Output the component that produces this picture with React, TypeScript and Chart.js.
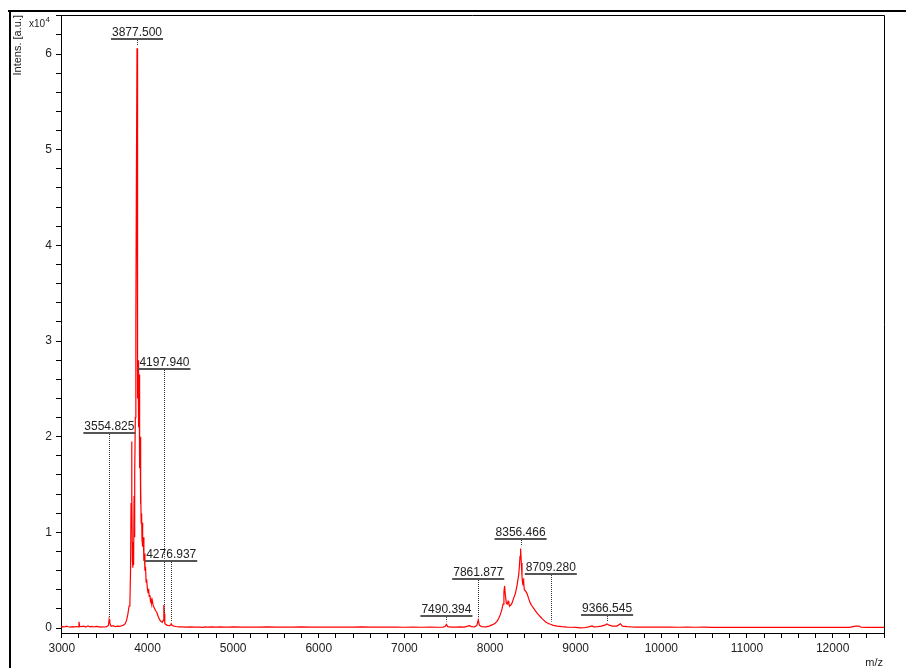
import React, { useEffect, useRef } from 'react';
import { Chart, registerables } from 'chart.js';

Chart.register(...registerables);

// ---- spectrum data (m/z, intensity in a.u.) ----
const mzValues: number[] = [
  2990, 3010, 3030, 3055, 3075, 3100, 3125, 3150, 3175, 3192, 3200, 3208, 3230, 3255, 3280, 3305, 3325, 3350, 3375, 3400,
  3425, 3450, 3475, 3500, 3525, 3545, 3552, 3560, 3575, 3600, 3625, 3650, 3675, 3700, 3720, 3740, 3755, 3770, 3785, 3795,
  3802, 3808, 3814, 3819, 3824, 3829, 3834, 3838, 3843, 3848, 3853, 3858, 3864, 3870, 3877.5, 3882, 3886, 3890, 3894, 3898,
  3902, 3906, 3910, 3914, 3918, 3922, 3926, 3931, 3936, 3941, 3946, 3951, 3958, 3964, 3970, 3977, 3984, 3990, 3998, 4006,
  4013, 4020, 4028, 4035, 4042, 4049, 4056, 4068, 4080, 4095, 4108, 4125, 4140, 4155, 4172, 4184, 4191, 4196, 4202, 4215,
  4235, 4255, 4270, 4278, 4290, 4310, 4335, 4360, 4400, 4450, 4500, 4550, 4600, 4650, 4665, 4700, 4750, 4800, 4850, 4900,
  4950, 5000, 5100, 5200, 5300, 5400, 5500, 5600, 5700, 5800, 5900, 6000, 6100, 6200, 6300, 6400, 6500, 6600, 6700, 6800,
  6900, 7000, 7100, 7200, 7300, 7400, 7450, 7475, 7490, 7505, 7550, 7600, 7650, 7700, 7740, 7760, 7780, 7820, 7845, 7862,
  7875, 7900, 7950, 7990, 8030, 8060, 8081, 8100, 8120, 8140, 8152, 8162, 8170, 8178, 8190, 8200, 8210, 8220, 8229, 8242,
  8256, 8275, 8295, 8310, 8322, 8335, 8342, 8350, 8357, 8365, 8373, 8380, 8385, 8390, 8395, 8400, 8412, 8432, 8450, 8470,
  8490, 8510, 8530, 8549, 8570, 8587, 8610, 8630, 8646, 8670, 8704, 8740, 8782, 8840, 8899, 8960, 9000, 9055, 9100, 9150,
  9191, 9210, 9260, 9300, 9340, 9366, 9390, 9430, 9480, 9522, 9545, 9600, 9650, 9700, 9750, 9800, 9900, 10000, 10100, 10200,
  10300, 10400, 10500, 10600, 10700, 10800, 10900, 11000, 11100, 11200, 11300, 11400, 11500, 11600, 11700, 11800, 11900, 12000, 12100, 12200,
  12240, 12270, 12310, 12330, 12400, 12500, 12600,
];

const intensityValues: number[] = [
  120, 150, 110, 200, 130, 100, 150, 120, 160, 130, 650, 180, 140, 200, 110, 230, 130, 170, 110, 180,
  140, 100, 130, 110, 150, 300, 900, 500, 180, 250, 140, 200, 170, 240, 300, 450, 800, 1400, 2300, 2800,
  6000, 13000, 19500, 14000, 7000, 6300, 9000, 6600, 13800, 9500, 16000, 22000, 32000, 46000, 60600, 38000, 24000, 28000, 26000, 21000,
  26500, 18000, 16700, 20000, 13000, 15000, 11000, 12000, 9200, 11000, 8500, 9500, 7000, 7800, 6000, 6400, 4800, 5100, 4200, 3700,
  4100, 3300, 3450, 2800, 3000, 2600, 2900, 2300, 2100, 1800, 1650, 1200, 900, 700, 600, 800, 2400, 1500, 500, 350,
  280, 250, 300, 450, 260, 200, 160, 130, 120, 100, 110, 90, 100, 60, 110, 100, 120, 100, 110, 90,
  100, 110, 100, 90, 100, 110, 100, 90, 100, 110, 100, 90, 100, 100, 90, 100, 110, 100, 90, 100,
  90, 80, 90, 80, 90, 80, 100, 150, 380, 150, 100, 90, 110, 100, 200, 250, 150, 120, 250, 850,
  300, 150, 120, 200, 350, 500, 700, 1000, 1400, 2000, 2500, 3800, 4400, 3500, 2600, 2500, 2800, 2500, 2300, 2400,
  2600, 3100, 3600, 4200, 4850, 5600, 6400, 7500, 8300, 6800, 5400, 4700, 4500, 5200, 4800, 4000, 3900, 3600, 3100, 2600,
  2300, 2050, 1800, 1550, 1350, 1180, 950, 800, 660, 520, 390, 280, 200, 140, 100, 80, 60, 20, 30, 120,
  220, 130, 150, 200, 300, 420, 300, 200, 200, 450, 200, 150, 120, 100, 100, 90, 100, 90, 100, 80,
  90, 80, 90, 70, 80, 70, 80, 70, 80, 60, 70, 60, 70, 60, 70, 60, 60, 70, 60, 70,
  150, 200, 200, 80, 60, 60, 60,
];

// ---- peak annotations ----
const peakLabels: string[] = ['3554.825', '3877.500', '4197.940', '4276.937', '7490.394', '7861.877', '8356.466', '8709.280', '9366.545'];
const peakMz: number[] = [3554.825, 3877.5, 4197.94, 4276.937, 7490.394, 7861.877, 8356.466, 8709.28, 9366.545];
const labelLevels: number[] = [20380, 61620, 27070, 7000, 1250, 5120, 9300, 5640, 1360];

// ---- axes ----
const xMin = 2990;
const xMax = 12600;
const yMin = -520;
const yMax = 64080;
const xMajorTicks: number[] = [3000, 4000, 5000, 6000, 7000, 8000, 9000, 10000, 11000, 12000];
const xMinorStep = 200;
const yMajorTicks: number[] = [0, 10000, 20000, 30000, 40000, 50000, 60000];
const yMinorStep = 2000;
const yTickDivisor = 10000;

const FONT = '"Liberation Sans", Arial, Helvetica, sans-serif';

function intensityAt(mz: number): number {
  for (let i = 0; i < mzValues.length - 1; i++) {
    if (mzValues[i] <= mz && mzValues[i + 1] >= mz) {
      const t = (mz - mzValues[i]) / (mzValues[i + 1] - mzValues[i]);
      return intensityValues[i] + t * (intensityValues[i + 1] - intensityValues[i]);
    }
  }
  return 0;
}

const framePlugin = {
  id: 'brukerFrame',
  afterDraw(chart: any) {
    const { ctx, chartArea: a, scales } = chart;
    const xs = scales.x;
    const ys = scales.y;
    ctx.save();

    // outer frame
    ctx.strokeStyle = '#000';
    ctx.lineWidth = 2;
    ctx.setLineDash([]);
    ctx.beginPath();
    ctx.moveTo(8, 11);
    ctx.lineTo(906, 11);
    ctx.moveTo(10, 10);
    ctx.lineTo(10, 668);
    ctx.stroke();

    // plot box top and right
    ctx.lineWidth = 1;
    ctx.strokeStyle = '#000';
    ctx.beginPath();
    ctx.moveTo(a.left, a.top + 0.5);
    ctx.lineTo(a.right + 0.5, a.top + 0.5);
    ctx.lineTo(a.right + 0.5, a.bottom);
    ctx.stroke();

    // peak labels
    ctx.font = '12px ' + FONT;
    peakLabels.forEach((lab, i) => {
      const px = xs.getPixelForValue(peakMz[i]);
      const ly = Math.round(ys.getPixelForValue(labelLevels[i]));
      const top = ys.getPixelForValue(intensityAt(peakMz[i]));
      const w = ctx.measureText(lab).width;
      ctx.fillStyle = '#222';
      ctx.textAlign = 'center';
      ctx.textBaseline = 'alphabetic';
      ctx.fillText(lab, px, ly - 3);
      ctx.setLineDash([]);
      ctx.strokeStyle = '#555';
      ctx.lineWidth = 2;
      ctx.beginPath();
      ctx.moveTo(px - w / 2 - 1, ly);
      ctx.lineTo(px + w / 2 + 1, ly);
      ctx.stroke();
      ctx.strokeStyle = '#333';
      ctx.lineWidth = 1;
      ctx.setLineDash([1, 1]);
      const vx = Math.round(px) + 0.5;
      ctx.beginPath();
      ctx.moveTo(vx, ly + 1);
      ctx.lineTo(vx, top - 3);
      ctx.stroke();
    });
    ctx.setLineDash([]);

    // axis titles
    ctx.fillStyle = '#222';
    ctx.font = '11px ' + FONT;
    ctx.save();
    ctx.translate(21, 15);
    ctx.rotate(-Math.PI / 2);
    ctx.textAlign = 'right';
    ctx.textBaseline = 'alphabetic';
    ctx.fillText('Intens. [a.u.]', 0, 0);
    ctx.restore();

    ctx.textAlign = 'left';
    ctx.textBaseline = 'alphabetic';
    ctx.font = '10px ' + FONT;
    ctx.fillText('x10', 29, 27);
    const wx = ctx.measureText('x10').width;
    ctx.font = '8px ' + FONT;
    ctx.fillText('4', 29 + wx + 0.5, 22);

    ctx.font = '11px ' + FONT;
    ctx.textAlign = 'right';
    ctx.fillText('m/z', 883, 666);

    ctx.restore();
  },
};

export default function App() {
  const canvasRef = useRef<HTMLCanvasElement | null>(null);

  useEffect(() => {
    const canvas = canvasRef.current;
    if (!canvas) return;
    const points = mzValues.map((m, i) => ({ x: m, y: intensityValues[i] }));
    const chart = new Chart(canvas, {
      type: 'line',
      data: {
        datasets: [
          {
            data: points,
            borderColor: '#ff0000',
            borderWidth: 1.2,
            pointRadius: 0,
            tension: 0,
            fill: false,
          },
        ],
      },
      options: {
        animation: false,
        responsive: false,
        devicePixelRatio: 1,
        layout: { padding: { left: 0, top: 15, right: 22, bottom: 0 } },
        plugins: {
          legend: { display: false },
          tooltip: { enabled: false },
        },
        scales: {
          x: {
            type: 'linear',
            min: xMin,
            max: xMax,
            afterFit: (s: any) => {
              s.height = 35;
            },
            afterBuildTicks: (s: any) => {
              const t: { value: number }[] = [];
              for (let v = xMajorTicks[0]; v <= xMax; v += xMinorStep) t.push({ value: v });
              s.ticks = t;
            },
            ticks: {
              autoSkip: false,
              maxRotation: 0,
              minRotation: 0,
              padding: 3,
              color: '#222',
              font: { family: FONT, size: 12 },
              callback: (v: any) => (xMajorTicks.includes(Number(v)) ? String(v) : ''),
            },
            grid: {
              display: true,
              drawOnChartArea: false,
              drawTicks: true,
              tickLength: 5,
              tickColor: '#000',
              color: '#000',
            },
            border: { display: true, color: '#000', width: 1 },
          },
          y: {
            type: 'linear',
            min: yMin,
            max: yMax,
            afterFit: (s: any) => {
              s.width = 61;
            },
            afterBuildTicks: (s: any) => {
              const t: { value: number }[] = [];
              for (let v = yMajorTicks[0]; v <= yMax; v += yMinorStep) t.push({ value: v });
              s.ticks = t;
            },
            ticks: {
              autoSkip: false,
              padding: 4,
              color: '#222',
              font: { family: FONT, size: 12 },
              callback: (v: any) => (yMajorTicks.includes(Number(v)) ? String(Number(v) / yTickDivisor) : ''),
            },
            grid: {
              display: true,
              drawOnChartArea: false,
              drawTicks: true,
              tickLength: 5,
              tickColor: '#000',
              color: '#000',
            },
            border: { display: true, color: '#000', width: 1 },
          },
        },
      },
      plugins: [framePlugin],
    });
    return () => chart.destroy();
  }, []);

  return (
    <div style={{ position: 'absolute', left: 0, top: 0, width: 906, height: 668, background: '#fff' }}>
      <canvas ref={canvasRef} width={906} height={668} style={{ display: 'block' }} />
    </div>
  );
}
